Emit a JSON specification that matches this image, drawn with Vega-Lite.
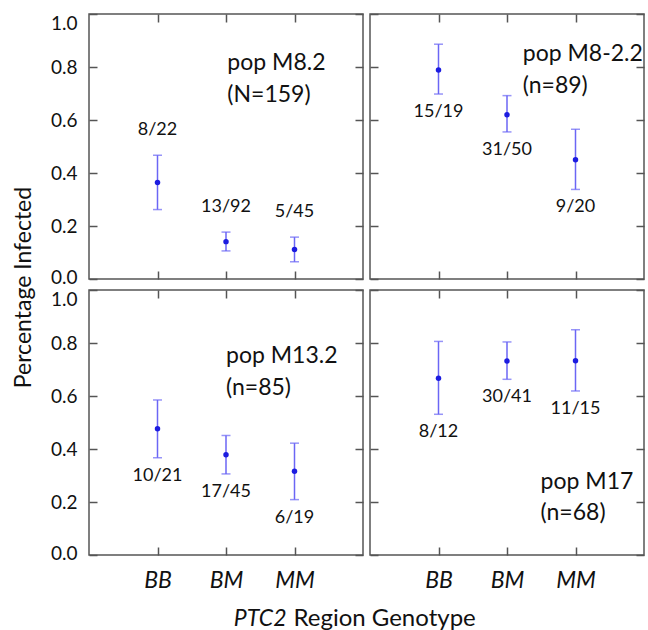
{
  "$schema": "https://vega.github.io/schema/vega-lite/v6.json",
  "padding": {"left": 11, "top": 12, "right": 2, "bottom": 0},
  "background": "white",
  "datasets": {
    "pts": [
      {"pop": "M8.2", "g": 1, "p": 0.364, "lo": 0.262, "hi": 0.467, "label": "8/22", "side": "above"},
      {"pop": "M8.2", "g": 2, "p": 0.141, "lo": 0.106, "hi": 0.177, "label": "13/92", "side": "above"},
      {"pop": "M8.2", "g": 3, "p": 0.111, "lo": 0.065, "hi": 0.158, "label": "5/45", "side": "above"},
      {"pop": "M8-2.2", "g": 1, "p": 0.789, "lo": 0.698, "hi": 0.886, "label": "15/19", "side": "below"},
      {"pop": "M8-2.2", "g": 2, "p": 0.62, "lo": 0.555, "hi": 0.692, "label": "31/50", "side": "below"},
      {"pop": "M8-2.2", "g": 3, "p": 0.45, "lo": 0.338, "hi": 0.565, "label": "9/20", "side": "below"},
      {"pop": "M13.2", "g": 1, "p": 0.476, "lo": 0.367, "hi": 0.585, "label": "10/21", "side": "below"},
      {"pop": "M13.2", "g": 2, "p": 0.378, "lo": 0.306, "hi": 0.451, "label": "17/45", "side": "below"},
      {"pop": "M13.2", "g": 3, "p": 0.316, "lo": 0.209, "hi": 0.422, "label": "6/19", "side": "below"},
      {"pop": "M17", "g": 1, "p": 0.667, "lo": 0.531, "hi": 0.806, "label": "8/12", "side": "below"},
      {"pop": "M17", "g": 2, "p": 0.732, "lo": 0.663, "hi": 0.804, "label": "30/41", "side": "below"},
      {"pop": "M17", "g": 3, "p": 0.733, "lo": 0.619, "hi": 0.85, "label": "11/15", "side": "below"}
    ],
    "ann": [
      {"pop": "M8.2", "x": 2.02, "y": 0.815, "text": "pop M8.2"},
      {"pop": "M8.2", "x": 2.02, "y": 0.695, "text": "(N=159)"},
      {"pop": "M8-2.2", "x": 2.23, "y": 0.85, "text": "pop M8-2.2"},
      {"pop": "M8-2.2", "x": 2.23, "y": 0.73, "text": "(n=89)"},
      {"pop": "M13.2", "x": 2.0, "y": 0.75, "text": "pop M13.2"},
      {"pop": "M13.2", "x": 2.0, "y": 0.63, "text": "(n=85)"},
      {"pop": "M17", "x": 2.49, "y": 0.274, "text": "pop M17"},
      {"pop": "M17", "x": 2.49, "y": 0.158, "text": "(n=68)"}
    ]
  },
  "columns": 2,
  "bounds": "flush",
  "spacing": {"row": 11, "column": 7},
  "concat": [
    {
      "width": 274, "height": 265,
      "layer": [
        {
          "data": {"name": "pts"},
          "transform": [{"filter": "datum.pop == 'M8.2'"}],
          "encoding": {
            "x": {"field": "g", "type": "quantitative", "scale": {"domain": [0, 4]}, "axis": {"orient": "bottom", "values": [1, 2, 3], "labels": false, "title": null}}
          },
          "layer": [
            {"mark": {"type": "rule", "color": "#6b66f5", "strokeWidth": 1.5},
             "encoding": {
               "y": {"field": "lo", "type": "quantitative", "scale": {"domain": [0, 1]}, "axis": {"orient": "left", "values": [0, 0.2, 0.4, 0.6, 0.8, 1], "format": ".1f", "labelPadding": 20, "labelBaseline": {"condition": {"test": "datum.value == 1", "value": "top"}, "value": "middle"}, "labelOffset": {"condition": {"test": "datum.value == 0", "value": -2}, "value": 0}, "title": "Percentage Infected", "titleX": -66, "titleY": 273, "titleAlign": "center", "titleBaseline": "middle", "titleAngle": -90, "titleFontSize": 23}},
               "y2": {"field": "hi"}}},
            {"mark": {"type": "tick", "orient": "horizontal", "size": 9, "thickness": 1.5, "color": "#6b66f5"},
             "encoding": {"y": {"field": "lo", "type": "quantitative"}}},
            {"mark": {"type": "tick", "orient": "horizontal", "size": 9, "thickness": 1.5, "color": "#6b66f5"},
             "encoding": {"y": {"field": "hi", "type": "quantitative"}}},
            {"mark": {"type": "circle", "size": 30, "color": "#1c1ce0", "opacity": 1},
             "encoding": {"y": {"field": "p", "type": "quantitative"}}},
            {"transform": [{"filter": "datum.side == 'above'"}],
             "mark": {"type": "text", "dy": -25, "fontSize": 18, "color": "#111"},
             "encoding": {"y": {"field": "hi", "type": "quantitative"}, "text": {"field": "label"}}},
            {"transform": [{"filter": "datum.side == 'below'"}],
             "mark": {"type": "text", "dy": 18, "fontSize": 18, "color": "#111"},
             "encoding": {"y": {"field": "lo", "type": "quantitative"}, "text": {"field": "label"}}}
          ]
        },
        {
          "data": {"name": "ann"},
          "transform": [{"filter": "datum.pop == 'M8.2'"}],
          "mark": {"type": "text", "align": "left", "baseline": "middle", "fontSize": 23, "color": "#111"},
          "encoding": {
            "x": {"field": "x", "type": "quantitative", "axis": {"orient": "top", "values": [1, 2, 3], "labels": false, "title": null}},
            "y": {"field": "y", "type": "quantitative", "axis": {"orient": "right", "values": [0, 0.2, 0.4, 0.6, 0.8, 1], "labels": false, "title": null}},
            "text": {"field": "text"}
          }
        }
      ],
      "resolve": {"axis": {"x": "independent", "y": "independent"}}
    },
    {
      "width": 274, "height": 265,
      "layer": [
        {
          "data": {"name": "pts"},
          "transform": [{"filter": "datum.pop == 'M8-2.2'"}],
          "encoding": {
            "x": {"field": "g", "type": "quantitative", "scale": {"domain": [0, 4]}, "axis": {"orient": "bottom", "values": [1, 2, 3], "labels": false, "title": null}}
          },
          "layer": [
            {"mark": {"type": "rule", "color": "#6b66f5", "strokeWidth": 1.5},
             "encoding": {
               "y": {"field": "lo", "type": "quantitative", "scale": {"domain": [0, 1]}, "axis": {"orient": "left", "values": [0, 0.2, 0.4, 0.6, 0.8, 1], "labels": false, "title": null}},
               "y2": {"field": "hi"}}},
            {"mark": {"type": "tick", "orient": "horizontal", "size": 9, "thickness": 1.5, "color": "#6b66f5"},
             "encoding": {"y": {"field": "lo", "type": "quantitative"}}},
            {"mark": {"type": "tick", "orient": "horizontal", "size": 9, "thickness": 1.5, "color": "#6b66f5"},
             "encoding": {"y": {"field": "hi", "type": "quantitative"}}},
            {"mark": {"type": "circle", "size": 30, "color": "#1c1ce0", "opacity": 1},
             "encoding": {"y": {"field": "p", "type": "quantitative"}}},
            {"transform": [{"filter": "datum.side == 'above'"}],
             "mark": {"type": "text", "dy": -25, "fontSize": 18, "color": "#111"},
             "encoding": {"y": {"field": "hi", "type": "quantitative"}, "text": {"field": "label"}}},
            {"transform": [{"filter": "datum.side == 'below'"}],
             "mark": {"type": "text", "dy": 18, "fontSize": 18, "color": "#111"},
             "encoding": {"y": {"field": "lo", "type": "quantitative"}, "text": {"field": "label"}}}
          ]
        },
        {
          "data": {"name": "ann"},
          "transform": [{"filter": "datum.pop == 'M8-2.2'"}],
          "mark": {"type": "text", "align": "left", "baseline": "middle", "fontSize": 23, "color": "#111"},
          "encoding": {
            "x": {"field": "x", "type": "quantitative", "axis": {"orient": "top", "values": [1, 2, 3], "labels": false, "title": null}},
            "y": {"field": "y", "type": "quantitative", "axis": {"orient": "right", "values": [0, 0.2, 0.4, 0.6, 0.8, 1], "labels": false, "title": null}},
            "text": {"field": "text"}
          }
        }
      ],
      "resolve": {"axis": {"x": "independent", "y": "independent"}}
    },
    {
      "width": 274, "height": 265,
      "layer": [
        {
          "data": {"name": "pts"},
          "transform": [{"filter": "datum.pop == 'M13.2'"}],
          "encoding": {
            "x": {"field": "g", "type": "quantitative", "scale": {"domain": [0, 4]}, "axis": {"orient": "bottom", "values": [1, 2, 3], "labelExpr": "datum.value == 1 ? 'BB' : datum.value == 2 ? 'BM' : 'MM'", "labelFontStyle": "italic", "labelFontSize": 23, "labelPadding": 22, "title": "PTC2", "titleFontStyle": "italic", "titleX": 197, "titleY": 63, "titleAlign": "right", "titleBaseline": "middle", "titleFontSize": 23}}
          },
          "layer": [
            {"mark": {"type": "rule", "color": "#6b66f5", "strokeWidth": 1.5},
             "encoding": {
               "y": {"field": "lo", "type": "quantitative", "scale": {"domain": [0, 1]}, "axis": {"orient": "left", "values": [0, 0.2, 0.4, 0.6, 0.8, 1], "format": ".1f", "labelPadding": 20, "labelBaseline": {"condition": {"test": "datum.value == 1", "value": "top"}, "value": "middle"}, "labelOffset": {"condition": {"test": "datum.value == 0", "value": -2}, "value": 0}, "title": null}},
               "y2": {"field": "hi"}}},
            {"mark": {"type": "tick", "orient": "horizontal", "size": 9, "thickness": 1.5, "color": "#6b66f5"},
             "encoding": {"y": {"field": "lo", "type": "quantitative"}}},
            {"mark": {"type": "tick", "orient": "horizontal", "size": 9, "thickness": 1.5, "color": "#6b66f5"},
             "encoding": {"y": {"field": "hi", "type": "quantitative"}}},
            {"mark": {"type": "circle", "size": 30, "color": "#1c1ce0", "opacity": 1},
             "encoding": {"y": {"field": "p", "type": "quantitative"}}},
            {"transform": [{"filter": "datum.side == 'above'"}],
             "mark": {"type": "text", "dy": -25, "fontSize": 18, "color": "#111"},
             "encoding": {"y": {"field": "hi", "type": "quantitative"}, "text": {"field": "label"}}},
            {"transform": [{"filter": "datum.side == 'below'"}],
             "mark": {"type": "text", "dy": 18, "fontSize": 18, "color": "#111"},
             "encoding": {"y": {"field": "lo", "type": "quantitative"}, "text": {"field": "label"}}}
          ]
        },
        {
          "data": {"name": "ann"},
          "transform": [{"filter": "datum.pop == 'M13.2'"}],
          "mark": {"type": "text", "align": "left", "baseline": "middle", "fontSize": 23, "color": "#111"},
          "encoding": {
            "x": {"field": "x", "type": "quantitative", "axis": {"orient": "top", "values": [1, 2, 3], "labels": false, "title": null}},
            "y": {"field": "y", "type": "quantitative", "axis": {"orient": "right", "values": [0, 0.2, 0.4, 0.6, 0.8, 1], "labels": false, "title": null}},
            "text": {"field": "text"}
          }
        }
      ],
      "resolve": {"axis": {"x": "independent", "y": "independent"}}
    },
    {
      "width": 274, "height": 265,
      "layer": [
        {
          "data": {"name": "pts"},
          "transform": [{"filter": "datum.pop == 'M17'"}],
          "encoding": {
            "x": {"field": "g", "type": "quantitative", "scale": {"domain": [0, 4]}, "axis": {"orient": "bottom", "values": [1, 2, 3], "labelExpr": "datum.value == 1 ? 'BB' : datum.value == 2 ? 'BM' : 'MM'", "labelFontStyle": "italic", "labelFontSize": 23, "labelPadding": 22, "title": "Region Genotype", "titleX": -77, "titleY": 63, "titleAlign": "left", "titleBaseline": "middle", "titleFontSize": 24}}
          },
          "layer": [
            {"mark": {"type": "rule", "color": "#6b66f5", "strokeWidth": 1.5},
             "encoding": {
               "y": {"field": "lo", "type": "quantitative", "scale": {"domain": [0, 1]}, "axis": {"orient": "left", "values": [0, 0.2, 0.4, 0.6, 0.8, 1], "labels": false, "title": null}},
               "y2": {"field": "hi"}}},
            {"mark": {"type": "tick", "orient": "horizontal", "size": 9, "thickness": 1.5, "color": "#6b66f5"},
             "encoding": {"y": {"field": "lo", "type": "quantitative"}}},
            {"mark": {"type": "tick", "orient": "horizontal", "size": 9, "thickness": 1.5, "color": "#6b66f5"},
             "encoding": {"y": {"field": "hi", "type": "quantitative"}}},
            {"mark": {"type": "circle", "size": 30, "color": "#1c1ce0", "opacity": 1},
             "encoding": {"y": {"field": "p", "type": "quantitative"}}},
            {"transform": [{"filter": "datum.side == 'above'"}],
             "mark": {"type": "text", "dy": -25, "fontSize": 18, "color": "#111"},
             "encoding": {"y": {"field": "hi", "type": "quantitative"}, "text": {"field": "label"}}},
            {"transform": [{"filter": "datum.side == 'below'"}],
             "mark": {"type": "text", "dy": 18, "fontSize": 18, "color": "#111"},
             "encoding": {"y": {"field": "lo", "type": "quantitative"}, "text": {"field": "label"}}}
          ]
        },
        {
          "data": {"name": "ann"},
          "transform": [{"filter": "datum.pop == 'M17'"}],
          "mark": {"type": "text", "align": "left", "baseline": "middle", "fontSize": 23, "color": "#111"},
          "encoding": {
            "x": {"field": "x", "type": "quantitative", "axis": {"orient": "top", "values": [1, 2, 3], "labels": false, "title": null}},
            "y": {"field": "y", "type": "quantitative", "axis": {"orient": "right", "values": [0, 0.2, 0.4, 0.6, 0.8, 1], "labels": false, "title": null}},
            "text": {"field": "text"}
          }
        }
      ],
      "resolve": {"axis": {"x": "independent", "y": "independent"}}
    }
  ],
  "config": {
    "font": "Lato",
    "view": {"stroke": "#555555", "strokeWidth": 1.5},
    "axis": {
      "domain": false, "grid": false, "tickSize": -8, "tickColor": "#555555", "tickWidth": 1.5,
      "labelColor": "#111111", "labelFontSize": 19, "titleColor": "#111111", "titleFontWeight": "normal"
    }
  }
}
